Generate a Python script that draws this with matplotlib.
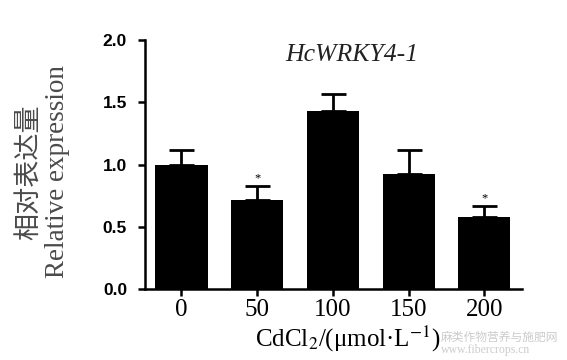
import matplotlib.pyplot as plt

plt.rcParams['font.family'] = ['Liberation Serif', 'Noto Sans CJK SC', 'DejaVu Sans']
plt.rcParams['mathtext.fontset'] = 'stix'

conc = ['0', '50', '100', '150', '200']
expr = [1.00, 0.715, 1.43, 0.92, 0.58]
err = [0.12, 0.115, 0.14, 0.20, 0.09]
signif = ['', '*', '', '', '*']

fig = plt.figure(figsize=(5.67, 3.6), dpi=100)
ax = fig.add_axes([0.256, 0.197, 0.665, 0.692])

x = range(len(conc))
ax.bar(x, expr, width=0.69, color='black', zorder=2)
ax.errorbar(x, expr, yerr=[[0] * len(err), err], fmt='none', ecolor='black',
            elinewidth=2, capsize=9, capthick=2, zorder=1)
for i, s in enumerate(signif):
    if s:
        ax.text(i, expr[i] + err[i] + 0.01, s, ha='center', va='bottom', fontsize=9)

ax.set_xlim(-0.48, 4.5)
ax.set_ylim(0, 2.0)
ax.set_yticks([0, 0.5, 1.0, 1.5, 2.0])
ax.set_yticklabels(['0.0', '0.5', '1.0', '1.5', '2.0'],
                   fontfamily='Liberation Sans', fontweight='bold', fontsize=12.5)
ax.set_xticks(list(x))
ax.set_xticklabels(conc, fontsize=18)
ax.tick_params(axis='both', width=1.8, length=5, direction='out')
ax.tick_params(axis='x', pad=2)
ax.tick_params(axis='y', pad=8)
for sp in ['top', 'right']:
    ax.spines[sp].set_visible(False)
for sp in ['left', 'bottom']:
    ax.spines[sp].set_linewidth(1.8)

ax.set_xlabel('CdCl$_2$/(μmol·L$^{-1}$)', fontsize=18)
ax.xaxis.set_label_coords(0.538, -0.14)
ax.set_ylabel('相对表达量\nRelative expression', fontsize=19.5, color='#4a4a4a',
              linespacing=1.1)
ax.yaxis.set_label_coords(-0.199, 0.47)
ax.text(0.547, 0.985, 'HcWRKY4-1', transform=ax.transAxes, ha='center', va='top',
        fontsize=18.5, fontstyle='italic', color='#222222')

# watermark, bottom right
fig.text(0.778, 0.012, '麻类作物营养与施肥网\nwww.fibercrops.cn', fontsize=8.5,
         color='#cccccc', va='bottom', linespacing=0.95)

fig.savefig('out.png', dpi=100, facecolor='white')
